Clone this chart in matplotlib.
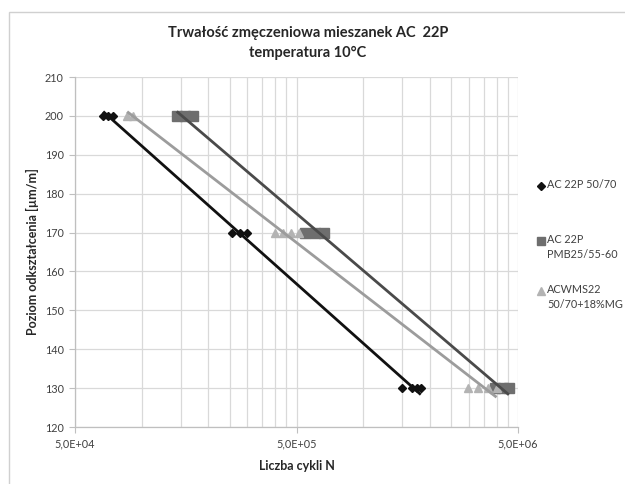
import numpy as np
import matplotlib
matplotlib.use("Agg")
import matplotlib.pyplot as plt
from matplotlib.lines import Line2D
from matplotlib.patches import Rectangle
from matplotlib.ticker import FixedLocator, NullFormatter

plt.rcParams['font.family'] = ['Lato', 'DejaVu Sans']

# Data
s1_name = "AC 22P 50/70"
s1_N = [6.7e4, 7.05e4, 7.4e4, 2.56e5, 2.78e5, 2.99e5, 1.50e6, 1.66e6, 1.75e6, 1.82e6]
s1_y = [200, 200, 200, 170, 170, 170, 130, 130, 130, 130]

s2_name = "AC 22P\nPMB25/55-60"
s2_N = [1.44e5, 1.57e5, 1.70e5, 5.46e5, 6.06e5, 6.65e5, 3.94e6, 4.28e6, 4.55e6]
s2_y = [200, 200, 200, 170, 170, 170, 130, 130, 130]

s3_name = "ACWMS22\n50/70+18%MG"
s3_N = [8.6e4, 9.1e4, 4.0e5, 4.35e5, 4.72e5, 5.13e5, 2.97e6, 3.30e6, 3.66e6, 4.00e6]
s3_y = [200, 200, 170, 170, 170, 170, 130, 130, 130, 130]

x_ticks = [5e4, 5e5, 5e6]
x_ticklabels = ["5,0E+04", "5,0E+05", "5,0E+06"]
y_ticks = list(range(120, 211, 10))

title = "Trwałość zmęczeniowa mieszanek AC  22P\ntemperatura 10°C"
xlabel = "Liczba cykli N"
ylabel = "Poziom odkształcenia [µm/m]"

fig = plt.figure(figsize=(6.25, 4.84), dpi=100)
W, H = 625, 484
ax = fig.add_axes([75 / W, 1 - 427 / H, (518 - 75) / W, (427 - 77) / H])

ax.set_xscale('log')
ax.set_xlim(5e4, 5e6)
ax.set_ylim(120, 210)

minor = [5 * 10 ** k * m for k in (4, 5) for m in range(2, 10)]
ax.xaxis.set_major_locator(FixedLocator(x_ticks))
ax.set_xticklabels(x_ticklabels)
ax.xaxis.set_minor_locator(FixedLocator(minor))
ax.xaxis.set_minor_formatter(NullFormatter())
ax.set_yticks(y_ticks)

ax.grid(True, which='major', color='#d9d9d9', lw=0.9)
ax.grid(True, which='minor', axis='x', color='#d9d9d9', lw=0.9)
ax.set_axisbelow(True)
for s in ['top', 'right']:
    ax.spines[s].set_visible(False)
for s in ['left', 'bottom']:
    ax.spines[s].set_color('#bfbfbf')
    ax.spines[s].set_linewidth(0.9)
ax.tick_params(which='major', length=4, color='#bfbfbf', labelsize=7.8,
               labelcolor='#404040', pad=4)
ax.tick_params(which='minor', length=0)

series = [
    (s1_N, s1_y, 'D', '#111111', '#111111', 4.5),
    (s2_N, s2_y, 's', '#6e6e6e', '#4a4a4a', 6.5),
    (s3_N, s3_y, '^', '#b3b3b3', '#9c9c9c', 6),
]
for N, y, mk, mc, lc, ms in series:
    N = np.array(N); y = np.array(y)
    ax.plot(N, y, ls='none', marker=mk, color=mc, ms=ms, mec=mc, zorder=3)
    a, b = np.polyfit(np.log10(N), y, 1)
    xs = np.array([N.min(), N.max()])
    ax.plot(xs, a * np.log10(xs) + b, color=lc, lw=2.0, zorder=4,
            solid_capstyle='butt')

ax.set_xlabel(xlabel, fontsize=9, fontweight='bold', color='#262626', labelpad=8)
ax.set_ylabel(ylabel, fontsize=9, fontweight='bold', color='#262626', labelpad=4)

fig.text(308 / W, 1 - 43 / H, title, ha='center', va='center', fontsize=10.5,
         fontweight='bold', color='#262626', linespacing=1.45)

# Legend (manual)
leg = [
    (186, 'D', '#111111', 4.5, s1_name),
    (241, 's', '#6e6e6e', 6, s2_name),
    (291, '^', '#b3b3b3', 6, s3_name),
]
for yy, mk, c, ms, txt in leg:
    fig.add_artist(Line2D([541 / W], [1 - yy / H], transform=fig.transFigure,
                          marker=mk, color=c, mec=c, ms=ms, ls='none'))
    fig.text(547 / W, 1 - (yy - 7) / H, txt, ha='left', va='top', fontsize=7.8,
             color='#404040', linespacing=1.5)

# outer border
fig.add_artist(Rectangle((9 / W, -0.1), 1.2, 1 - 12 / H + 0.1,
                         transform=fig.transFigure, fill=False,
                         ec='#d0d0d0', lw=1.0))

fig.savefig('out.png', dpi=100)
